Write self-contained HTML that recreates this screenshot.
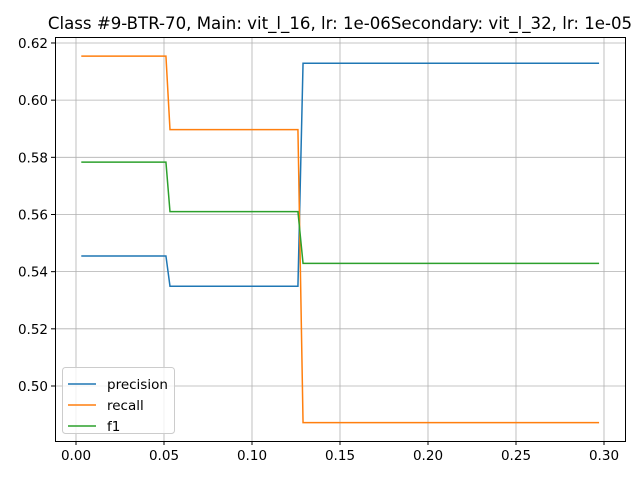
<!DOCTYPE html>
<html><head><meta charset="utf-8"><style>
body{margin:0;background:#fff;font-family:"DejaVu Sans","Liberation Sans",sans-serif}
svg text{font-family:"DejaVu Sans","Liberation Sans",sans-serif}
</style></head><body>
<svg id="chart" width="640" height="480" xmlns="http://www.w3.org/2000/svg">
<rect x="0" y="0" width="640" height="480" fill="#fff"/>
<text x="340" y="29" font-size="16.6" text-anchor="middle">Class #9-BTR-70, Main: vit_l_16, lr: 1e-06Secondary: vit_l_32, lr: 1e-05</text>
<g id="grid"></g><g id="ticks"></g><g id="lines"></g>
<rect x="55.5" y="37.5" width="570" height="404" fill="none" stroke="#000" stroke-width="1"/>
<g>
<rect x="62.5" y="367.5" width="112" height="66" rx="3" fill="#fff" fill-opacity="0.8" stroke="#ccc"/>
<g id="legend"></g>
</g>
</svg>
<script>
const xs = [0.003, 0.0511, 0.0534, 0.1261, 0.129, 0.2972];
const precision = [0.5455, 0.5455, 0.5349, 0.5349, 0.6129, 0.6129];
const recall = [0.6154, 0.6154, 0.5897, 0.5897, 0.4872, 0.4872];
const f1 = [0.5783, 0.5783, 0.5610, 0.5610, 0.5429, 0.5429];
const seriesNames = ["precision", "recall", "f1"];
const xTicks = [0.00, 0.05, 0.10, 0.15, 0.20, 0.25, 0.30];
const yTicks = [0.50, 0.52, 0.54, 0.56, 0.58, 0.60, 0.62];
const colors = ["#1f77b4", "#ff7f0e", "#2ca02c"];
const NS = "http://www.w3.org/2000/svg";
function sx(v){return 76 + v*1760;}
function sy(v){return 386 - (v-0.50)*2858.5;}
function mk(tag, attrs, parent){const e=document.createElementNS(NS,tag);for(const k in attrs)e.setAttribute(k,attrs[k]);parent.appendChild(e);return e;}
const grid=document.getElementById('grid'), ticks=document.getElementById('ticks'), lines=document.getElementById('lines'), leg=document.getElementById('legend');
xTicks.forEach(t=>{
  const x=sx(t);
  const g=mk('line',{x1:x,x2:x,y1:38,y2:441,stroke:'#b0b0b0','stroke-width':0.8},grid);
  
  
  mk('line',{x1:x,x2:x,y1:441,y2:445,stroke:'#000'},ticks);
  const tx=mk('text',{x:x,y:460,'font-size':13.5,'text-anchor':'middle'},ticks);
  tx.textContent=t.toFixed(2);
  
  
});
yTicks.forEach(t=>{
  const y=sy(t);
  const g=mk('line',{x1:55,x2:625,y1:y,y2:y,stroke:'#b0b0b0','stroke-width':0.8},grid);
  
  
  mk('line',{x1:51,x2:55,y1:y,y2:y,stroke:'#000'},ticks);
  const tx=mk('text',{x:48,y:y+5,'font-size':13.5,'text-anchor':'end'},ticks);
  tx.textContent=t.toFixed(2);
  
  
});
[precision, recall, f1].forEach((s,i)=>{
  const pts=s.map((v,j)=>sx(xs[j])+','+sy(v)).join(' ');
  const p=mk('polyline',{points:pts,fill:'none',stroke:colors[i],'stroke-width':1.5},lines);
  
  
  const y=384+i*21;
  mk('line',{x1:68,x2:96,y1:y,y2:y,stroke:colors[i],'stroke-width':1.5},leg);
  const t=mk('text',{x:107,y:y+5,'font-size':13.5},leg);
  t.textContent=seriesNames[i];
  
  
});
</script>
</body></html>
